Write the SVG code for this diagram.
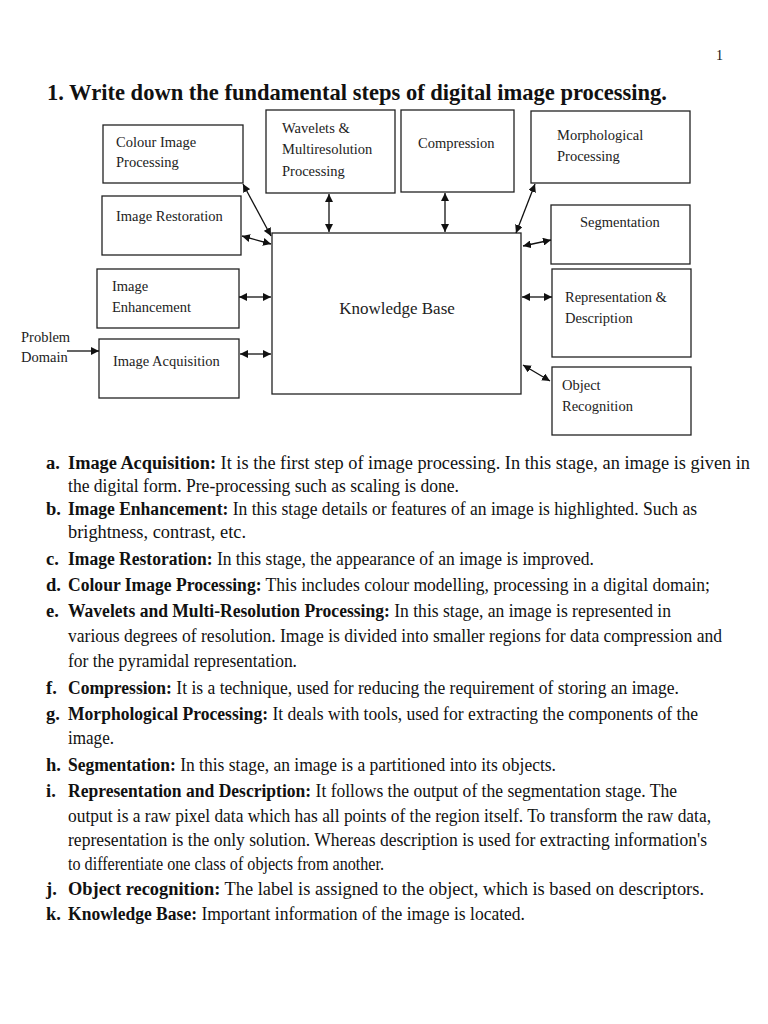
<svg xmlns="http://www.w3.org/2000/svg" width="768" height="1024" viewBox="0 0 768 1024">
<style>
.box{fill:#fff;stroke:#222;stroke-width:1.3}
.bt{font-family:"Liberation Serif","Times New Roman",serif;font-size:14.5px;fill:#222}
.kb{font-family:"Liberation Serif","Times New Roman",serif;font-size:17px;fill:#222}
.cn{stroke:#111;stroke-width:1.3;fill:none}
.t{font-family:"Liberation Serif","Times New Roman",serif;font-size:18.5px;fill:#111}
.b{font-weight:bold}
</style>
<defs>
<marker id="ah" viewBox="0 0 10 10" refX="10" refY="5" markerWidth="8" markerHeight="8" markerUnits="userSpaceOnUse" orient="auto-start-reverse">
<path d="M0,0 L10,5 L0,10 z" fill="#111"/>
</marker>
</defs>
<rect width="768" height="1024" fill="#fff"/>
<text class="t" x="716" y="60" style="font-size:14px">1</text>
<text class="t b" x="47" y="99.5" style="font-size:23px" textLength="620" lengthAdjust="spacingAndGlyphs">1. Write down the fundamental steps of digital image processing.</text>

<g id="colour"><rect class="box" x="103" y="125" width="140" height="58"/><text class="bt" x="116" y="147">Colour Image</text><text class="bt" x="116" y="167">Processing</text></g>
<g id="restoration"><rect class="box" x="102" y="196" width="139" height="59"/><text class="bt" x="116" y="221">Image Restoration</text></g>
<g id="enhancement"><rect class="box" x="97" y="269" width="142" height="59"/><text class="bt" x="112" y="291">Image</text><text class="bt" x="112" y="312">Enhancement</text></g>
<g id="acquisition"><rect class="box" x="99" y="339" width="140" height="59"/><text class="bt" x="113" y="366">Image Acquisition</text></g>
<g id="problem"><text class="bt" x="21" y="342">Problem</text><text class="bt" x="21" y="362">Domain</text></g>
<g id="wavelets"><rect class="box" x="266" y="110" width="129" height="83"/><text class="bt" x="282" y="133">Wavelets &amp;</text><text class="bt" x="282" y="154">Multiresolution</text><text class="bt" x="282" y="176">Processing</text></g>
<g id="compression"><rect class="box" x="401" y="110" width="113" height="82"/><text class="bt" x="418" y="148">Compression</text></g>
<g id="morphological"><rect class="box" x="531" y="111" width="159" height="72"/><text class="bt" x="557" y="140">Morphological</text><text class="bt" x="557" y="161">Processing</text></g>
<g id="segmentation"><rect class="box" x="551" y="205" width="139" height="59"/><text class="bt" x="580" y="227">Segmentation</text></g>
<g id="representation"><rect class="box" x="552" y="269" width="139" height="88"/><text class="bt" x="565" y="302">Representation &amp;</text><text class="bt" x="565" y="323">Description</text></g>
<g id="object"><rect class="box" x="552" y="367" width="139" height="68"/><text class="bt" x="562" y="390">Object</text><text class="bt" x="562" y="411">Recognition</text></g>
<g id="knowledge"><rect class="box" x="272" y="233" width="249" height="161"/><text class="kb" x="397" y="314" text-anchor="middle">Knowledge Base</text></g>

<g id="connectors">
<line class="cn" x1="243" y1="184" x2="271" y2="236" marker-start="url(#ah)" marker-end="url(#ah)"/>
<line class="cn" x1="242" y1="236" x2="271" y2="244" marker-start="url(#ah)" marker-end="url(#ah)"/>
<line class="cn" x1="239" y1="297" x2="271" y2="297" marker-start="url(#ah)" marker-end="url(#ah)"/>
<line class="cn" x1="240" y1="354" x2="271" y2="354" marker-start="url(#ah)" marker-end="url(#ah)"/>
<line class="cn" x1="329" y1="194" x2="329" y2="232" marker-start="url(#ah)" marker-end="url(#ah)"/>
<line class="cn" x1="445" y1="193" x2="445" y2="232" marker-start="url(#ah)" marker-end="url(#ah)"/>
<line class="cn" x1="535" y1="184" x2="516" y2="233" marker-start="url(#ah)" marker-end="url(#ah)"/>
<line class="cn" x1="523" y1="246" x2="551" y2="240" marker-start="url(#ah)" marker-end="url(#ah)"/>
<line class="cn" x1="522" y1="297" x2="552" y2="297" marker-start="url(#ah)" marker-end="url(#ah)"/>
<line class="cn" x1="523" y1="365" x2="550" y2="381" marker-start="url(#ah)" marker-end="url(#ah)"/>
<line class="cn" x1="67" y1="351" x2="99" y2="351" marker-end="url(#ah)"/>
</g>

<g id="list">
<text class="t b" x="46" y="469">a.</text>
<text class="t" x="68" y="469" textLength="682" lengthAdjust="spacingAndGlyphs"><tspan class="b">Image Acquisition:</tspan> It is the first step of image processing. In this stage, an image is given in</text>
<text class="t" x="68" y="492" textLength="391" lengthAdjust="spacingAndGlyphs">the digital form. Pre-processing such as scaling is done.</text>
<text class="t b" x="46" y="515">b.</text>
<text class="t" x="68" y="515" textLength="629" lengthAdjust="spacingAndGlyphs"><tspan class="b">Image Enhancement:</tspan> In this stage details or features of an image is highlighted. Such as</text>
<text class="t" x="68" y="538" textLength="178" lengthAdjust="spacingAndGlyphs">brightness, contrast, etc.</text>
<text class="t b" x="46" y="565">c.</text>
<text class="t" x="68" y="565" textLength="526" lengthAdjust="spacingAndGlyphs"><tspan class="b">Image Restoration:</tspan> In this stage, the appearance of an image is improved.</text>
<text class="t b" x="46" y="591">d.</text>
<text class="t" x="68" y="591" textLength="642" lengthAdjust="spacingAndGlyphs"><tspan class="b">Colour Image Processing:</tspan> This includes colour modelling, processing in a digital domain;</text>
<text class="t b" x="46" y="617">e.</text>
<text class="t" x="68" y="617" textLength="603" lengthAdjust="spacingAndGlyphs"><tspan class="b">Wavelets and Multi-Resolution Processing:</tspan> In this stage, an image is represented in</text>
<text class="t" x="68" y="642" textLength="654" lengthAdjust="spacingAndGlyphs">various degrees of resolution. Image is divided into smaller regions for data compression and</text>
<text class="t" x="68" y="667" textLength="229" lengthAdjust="spacingAndGlyphs">for the pyramidal representation.</text>
<text class="t b" x="46" y="694">f.</text>
<text class="t" x="68" y="694" textLength="611" lengthAdjust="spacingAndGlyphs"><tspan class="b">Compression:</tspan> It is a technique, used for reducing the requirement of storing an image.</text>
<text class="t b" x="46" y="720">g.</text>
<text class="t" x="68" y="720" textLength="630" lengthAdjust="spacingAndGlyphs"><tspan class="b">Morphological Processing:</tspan> It deals with tools, used for extracting the components of the</text>
<text class="t" x="68" y="744" textLength="46" lengthAdjust="spacingAndGlyphs">image.</text>
<text class="t b" x="46" y="771">h.</text>
<text class="t" x="68" y="771" textLength="488" lengthAdjust="spacingAndGlyphs"><tspan class="b">Segmentation:</tspan> In this stage, an image is a partitioned into its objects.</text>
<text class="t b" x="46" y="797">i.</text>
<text class="t" x="68" y="797" textLength="609" lengthAdjust="spacingAndGlyphs"><tspan class="b">Representation and Description:</tspan> It follows the output of the segmentation stage. The</text>
<text class="t" x="68" y="822" textLength="643" lengthAdjust="spacingAndGlyphs">output is a raw pixel data which has all points of the region itself. To transform the raw data,</text>
<text class="t" x="68" y="846" textLength="639" lengthAdjust="spacingAndGlyphs">representation is the only solution. Whereas description is used for extracting information's</text>
<text class="t" x="68" y="870" textLength="316" lengthAdjust="spacingAndGlyphs">to differentiate one class of objects from another.</text>
<text class="t b" x="46" y="895">j.</text>
<text class="t" x="68" y="895" textLength="636" lengthAdjust="spacingAndGlyphs"><tspan class="b">Object recognition:</tspan> The label is assigned to the object, which is based on descriptors.</text>
<text class="t b" x="46" y="920">k.</text>
<text class="t" x="68" y="920" textLength="457" lengthAdjust="spacingAndGlyphs"><tspan class="b">Knowledge Base:</tspan> Important information of the image is located.</text>
</g>
</svg>
